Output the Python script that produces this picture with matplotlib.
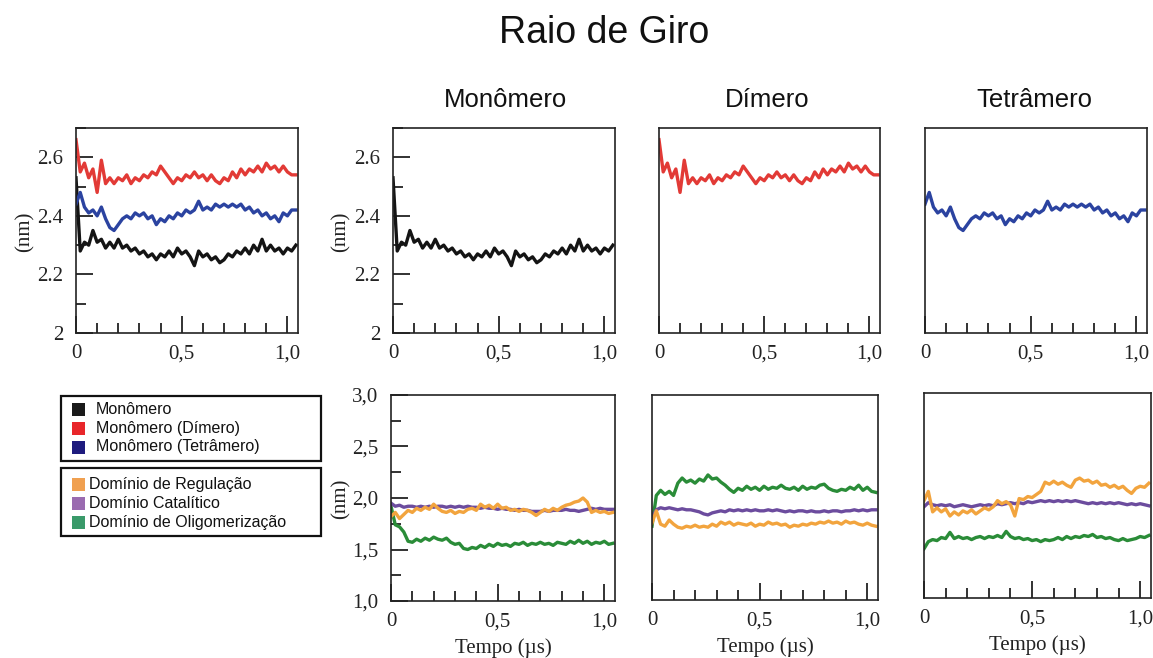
import numpy as np
import matplotlib
matplotlib.use("Agg")
import matplotlib.pyplot as plt
from matplotlib.patches import Rectangle
from matplotlib.ticker import MultipleLocator, FixedLocator

# ---------------- data ----------------
tempo = np.arange(53) * 0.02  # time grid (µs)

# top row: radius of gyration of the monomer (nm)
monomero = [2.53, 2.28, 2.31, 2.30, 2.35, 2.31, 2.32, 2.29, 2.31, 2.29, 2.32, 2.29, 2.30,
            2.28, 2.29, 2.27, 2.28, 2.26, 2.27, 2.25, 2.27, 2.26, 2.28, 2.26, 2.29, 2.27,
            2.28, 2.26, 2.23, 2.28, 2.26, 2.27, 2.25, 2.26, 2.24, 2.25, 2.27, 2.26, 2.28,
            2.27, 2.29, 2.27, 2.30, 2.28, 2.32, 2.28, 2.30, 2.28, 2.29, 2.27, 2.29, 2.28, 2.30]
mono_dimero = [2.66, 2.55, 2.58, 2.53, 2.56, 2.48, 2.59, 2.51, 2.53, 2.51, 2.53, 2.52, 2.54,
               2.51, 2.53, 2.52, 2.54, 2.53, 2.55, 2.54, 2.57, 2.55, 2.53, 2.51, 2.53, 2.52,
               2.54, 2.53, 2.55, 2.53, 2.54, 2.52, 2.54, 2.52, 2.51, 2.53, 2.52, 2.55, 2.53,
               2.56, 2.54, 2.56, 2.55, 2.57, 2.55, 2.58, 2.56, 2.57, 2.55, 2.57, 2.55, 2.54, 2.54]
mono_tetramero = [2.44, 2.48, 2.43, 2.41, 2.42, 2.40, 2.43, 2.39, 2.36, 2.35, 2.37, 2.39, 2.40,
                  2.39, 2.41, 2.40, 2.41, 2.39, 2.40, 2.37, 2.39, 2.38, 2.40, 2.39, 2.41, 2.40,
                  2.42, 2.41, 2.42, 2.45, 2.42, 2.43, 2.42, 2.44, 2.43, 2.44, 2.43, 2.44, 2.43,
                  2.44, 2.42, 2.43, 2.41, 2.42, 2.40, 2.41, 2.39, 2.40, 2.38, 2.41, 2.40, 2.42, 2.42]

# bottom row: domains (nm)
mono_reg = [1.82, 1.86, 1.80, 1.84, 1.88, 1.86, 1.90, 1.88, 1.91, 1.89, 1.94, 1.90, 1.87,
            1.86, 1.88, 1.85, 1.87, 1.86, 1.89, 1.90, 1.88, 1.94, 1.91, 1.93, 1.90, 1.94,
            1.90, 1.91, 1.88, 1.89, 1.87, 1.89, 1.88, 1.86, 1.83, 1.86, 1.89, 1.87, 1.90,
            1.88, 1.91, 1.93, 1.94, 1.96, 1.97, 2.00, 1.96, 1.86, 1.88, 1.86, 1.87, 1.85, 1.86]
mono_cat = [1.95, 1.92, 1.93, 1.91, 1.92, 1.92, 1.91, 1.92, 1.91, 1.92, 1.91, 1.92, 1.92,
            1.91, 1.92, 1.91, 1.92, 1.91, 1.92, 1.91, 1.91, 1.90, 1.91, 1.90, 1.90, 1.89,
            1.90, 1.89, 1.89, 1.88, 1.89, 1.88, 1.88, 1.87, 1.87, 1.87, 1.88, 1.87, 1.88,
            1.88, 1.88, 1.89, 1.88, 1.88, 1.87, 1.88, 1.89, 1.90, 1.89, 1.90, 1.89, 1.89, 1.89]
mono_olig = [1.92, 1.74, 1.72, 1.67, 1.58, 1.57, 1.60, 1.58, 1.61, 1.59, 1.62, 1.60, 1.59,
             1.61, 1.57, 1.55, 1.56, 1.51, 1.50, 1.52, 1.51, 1.54, 1.52, 1.55, 1.53, 1.56,
             1.54, 1.55, 1.53, 1.56, 1.55, 1.57, 1.54, 1.56, 1.55, 1.57, 1.55, 1.56, 1.54,
             1.57, 1.56, 1.55, 1.58, 1.56, 1.59, 1.56, 1.58, 1.55, 1.57, 1.56, 1.58, 1.55, 1.56]

dim_reg = [1.75, 1.87, 1.74, 1.72, 1.78, 1.74, 1.71, 1.70, 1.72, 1.71, 1.73, 1.71, 1.72,
           1.71, 1.74, 1.72, 1.76, 1.74, 1.76, 1.73, 1.75, 1.74, 1.73, 1.75, 1.72, 1.74,
           1.73, 1.76, 1.74, 1.75, 1.73, 1.74, 1.71, 1.73, 1.72, 1.74, 1.73, 1.75, 1.74,
           1.76, 1.75, 1.77, 1.75, 1.76, 1.74, 1.77, 1.75, 1.76, 1.74, 1.73, 1.75, 1.73, 1.72]
dim_cat = [1.80, 1.88, 1.90, 1.89, 1.90, 1.89, 1.88, 1.89, 1.88, 1.88, 1.87, 1.86, 1.84,
           1.83, 1.85, 1.86, 1.87, 1.86, 1.88, 1.87, 1.88, 1.87, 1.88, 1.87, 1.88, 1.87,
           1.87, 1.88, 1.87, 1.88, 1.87, 1.86, 1.87, 1.86, 1.87, 1.87, 1.86, 1.87, 1.86,
           1.86, 1.87, 1.86, 1.87, 1.87, 1.86, 1.87, 1.87, 1.88, 1.87, 1.88, 1.87, 1.88, 1.88]
dim_olig = [1.72, 2.02, 2.07, 2.03, 2.06, 2.02, 2.14, 2.19, 2.15, 2.17, 2.14, 2.18, 2.16,
            2.22, 2.18, 2.19, 2.15, 2.12, 2.08, 2.05, 2.09, 2.07, 2.11, 2.08, 2.10, 2.07,
            2.11, 2.08, 2.10, 2.09, 2.12, 2.09, 2.08, 2.10, 2.07, 2.11, 2.08, 2.10, 2.09,
            2.12, 2.13, 2.09, 2.07, 2.06, 2.08, 2.07, 2.10, 2.08, 2.12, 2.07, 2.10, 2.06, 2.05]

tet_reg = [1.95, 2.04, 1.84, 1.88, 1.84, 1.87, 1.80, 1.84, 1.81, 1.85, 1.83, 1.86, 1.82,
           1.85, 1.88, 1.86, 1.89, 1.95, 1.92, 1.94, 1.91, 1.80, 1.97, 1.96, 1.99, 1.98,
           2.01, 2.04, 2.13, 2.11, 2.14, 2.11, 2.13, 2.10, 2.08, 2.15, 2.17, 2.14, 2.15,
           2.12, 2.14, 2.10, 2.11, 2.08, 2.10, 2.07, 2.09, 2.05, 2.02, 2.07, 2.09, 2.08, 2.12]
tet_cat = [1.89, 1.93, 1.91, 1.90, 1.91, 1.90, 1.91, 1.89, 1.90, 1.91, 1.90, 1.89, 1.90,
           1.91, 1.90, 1.91, 1.90, 1.92, 1.91, 1.92, 1.93, 1.92, 1.93, 1.92, 1.94, 1.93,
           1.94, 1.95, 1.94, 1.95, 1.94, 1.95, 1.94, 1.95, 1.94, 1.95, 1.94, 1.93, 1.92,
           1.93, 1.92, 1.93, 1.92, 1.93, 1.92, 1.93, 1.92, 1.91, 1.92, 1.91, 1.92, 1.91, 1.90]
tet_olig = [1.48, 1.55, 1.57, 1.56, 1.59, 1.58, 1.64, 1.58, 1.60, 1.58, 1.59, 1.57, 1.59,
            1.60, 1.58, 1.60, 1.59, 1.61, 1.59, 1.65, 1.60, 1.58, 1.59, 1.57, 1.58, 1.56,
            1.57, 1.55, 1.57, 1.56, 1.57, 1.59, 1.57, 1.60, 1.58, 1.60, 1.59, 1.61, 1.60,
            1.62, 1.59, 1.60, 1.58, 1.59, 1.57, 1.56, 1.58, 1.56, 1.57, 1.58, 1.60, 1.59, 1.61]

col_titles = ["Monômero", "Dímero", "Tetrâmero"]
legend1_labels = ["Monômero", "Monômero (Dímero)", "Monômero (Tetrâmero)"]
legend2_labels = ["Domínio de Regulação", "Domínio Catalítico", "Domínio de Oligomerização"]
x_ticks = [0, 0.5, 1.0]
x_ticklabels = ["0", "0,5", "1,0"]
top_yticks = [2.0, 2.2, 2.4, 2.6]
top_yticklabels = ["2", "2.2", "2.4", "2.6"]
bot_yticks = [1.0, 1.5, 2.0, 2.5, 3.0]
bot_yticklabels = ["1,0", "1,5", "2,0", "2,5", "3,0"]

# ---------------- style ----------------
C_BLACK = "#141414"
C_RED = "#e23a36"
C_BLUE = "#2b43a0"
C_ORANGE = "#f2a43e"
C_PURPLE = "#6c4c9e"
C_GREEN = "#2a8c38"
LEG_COLORS1 = ["#1a1a1a", "#e8262a", "#1e1b7e"]
LEG_COLORS2 = ["#f0a050", "#9a6bb0", "#3a9a6a"]

SERIF = "Liberation Serif"
SANS = "Liberation Sans"

W, H = 1153, 658
fig = plt.figure(figsize=(W / 100, H / 100), dpi=100)


def px_axes(left, top, right, bottom):
    return fig.add_axes([left / W, 1 - bottom / H, (right - left) / W, (bottom - top) / H])


def style_axes(ax, ylim, yticks, yticklabels, yminor, show_y):
    ax.set_xlim(0, 1.05)
    ax.set_ylim(*ylim)
    for s in ax.spines.values():
        s.set_linewidth(1.2)
        s.set_color("#222222")
    ax.xaxis.set_major_locator(FixedLocator(x_ticks))
    ax.set_xticklabels(x_ticklabels, fontfamily=SERIF, fontsize=15)
    ax.xaxis.set_minor_locator(MultipleLocator(0.1))
    ax.tick_params(axis="x", which="major", direction="in", length=12, width=1.3,
                   pad=8, top=False, colors="#222222", labelcolor="#222222")
    ax.tick_params(axis="x", which="minor", direction="in", length=7.5, width=1.3,
                   top=False, colors="#222222")
    if show_y:
        ax.yaxis.set_major_locator(FixedLocator(yticks))
        ax.set_yticklabels(yticklabels, fontfamily=SERIF, fontsize=15)
        ax.yaxis.set_minor_locator(MultipleLocator(yminor))
        ax.tick_params(axis="y", which="major", direction="in", length=12, width=1.3,
                       pad=9, right=False, colors="#222222", labelcolor="#222222")
        ax.tick_params(axis="y", which="minor", direction="in", length=7.5, width=1.3,
                       right=False, colors="#222222")
    else:
        ax.set_yticks([])
        ax.yaxis.set_minor_locator(FixedLocator([]))


LW = 2.4
top_ylim = (2.0, 2.70)
bot_ylim = (1.0, 3.0)

# --- top row ---
ax0 = px_axes(76, 128, 298, 333)
ax0.plot(tempo, monomero, color=C_BLACK, lw=LW)
ax0.plot(tempo, mono_tetramero, color=C_BLUE, lw=LW)
ax0.plot(tempo, mono_dimero, color=C_RED, lw=LW)
style_axes(ax0, top_ylim, top_yticks, top_yticklabels, 0.1, True)

ax1 = px_axes(393, 128, 615, 333)
ax1.plot(tempo, monomero, color=C_BLACK, lw=LW)
style_axes(ax1, top_ylim, top_yticks, top_yticklabels, 0.1, True)

ax2 = px_axes(659, 128, 880, 333)
ax2.plot(tempo, mono_dimero, color=C_RED, lw=LW)
style_axes(ax2, top_ylim, None, None, 0.1, False)

ax3 = px_axes(925, 128, 1147, 333)
ax3.plot(tempo, mono_tetramero, color=C_BLUE, lw=LW)
style_axes(ax3, top_ylim, None, None, 0.1, False)

# --- bottom row ---
bx1 = px_axes(391, 395, 615, 601)
bx1.plot(tempo, mono_olig, color=C_GREEN, lw=LW)
bx1.plot(tempo, mono_cat, color=C_PURPLE, lw=LW)
bx1.plot(tempo, mono_reg, color=C_ORANGE, lw=LW)
style_axes(bx1, bot_ylim, bot_yticks, bot_yticklabels, 0.25, True)

bx2 = px_axes(652, 395, 878, 600)
bx2.plot(tempo, dim_olig, color=C_GREEN, lw=LW)
bx2.plot(tempo, dim_cat, color=C_PURPLE, lw=LW)
bx2.plot(tempo, dim_reg, color=C_ORANGE, lw=LW)
style_axes(bx2, bot_ylim, None, None, 0.25, False)

bx3 = px_axes(924, 393, 1151, 598)
bx3.plot(tempo, tet_olig, color=C_GREEN, lw=LW)
bx3.plot(tempo, tet_cat, color=C_PURPLE, lw=LW)
bx3.plot(tempo, tet_reg, color=C_ORANGE, lw=LW)
style_axes(bx3, bot_ylim, None, None, 0.25, False)

for ax in (bx1, bx2, bx3):
    ax.set_xlabel("Tempo (µs)", fontfamily=SERIF, fontsize=15, labelpad=5, color="#222222")

# y labels
for (xc, yc) in [(25, 232), (341, 232), (341, 499)]:
    fig.text(xc / W, 1 - yc / H, "(nm)", rotation=90, ha="center", va="center",
             fontfamily=SERIF, fontsize=15, color="#222222")

# titles
fig.text(604 / W, 1 - 33 / H, "Raio de Giro", ha="center", va="center",
         fontfamily=SANS, fontsize=27, color="#111111")
for xc, t in zip([505, 767, 1034], col_titles):
    fig.text(xc / W, 1 - 100 / H, t, ha="center", va="center",
             fontfamily=SANS, fontsize=18.5, color="#111111")

# legend boxes
def legend_box(top, bottom, labels, colors, text_x, rows_y):
    fig.patches.append(Rectangle((61 / W, 1 - bottom / H), (321 - 61) / W, (bottom - top) / H,
                                 transform=fig.transFigure, fill=False,
                                 edgecolor="#111111", linewidth=1.6))
    for lab, col, yc in zip(labels, colors, rows_y):
        fig.patches.append(Rectangle((72 / W, 1 - (yc + 6.5) / H), 13 / W, 13 / H,
                                     transform=fig.transFigure, facecolor=col,
                                     edgecolor="none"))
        fig.text(text_x / W, 1 - yc / H, lab, ha="left", va="center",
                 fontfamily=SANS, fontsize=11.5, color="#111111")

legend_box(396, 461, legend1_labels, LEG_COLORS1, 96, [409, 428, 447])
legend_box(468, 536, legend2_labels, LEG_COLORS2, 89, [484, 503, 522])

fig.savefig("out.png", dpi=100)
